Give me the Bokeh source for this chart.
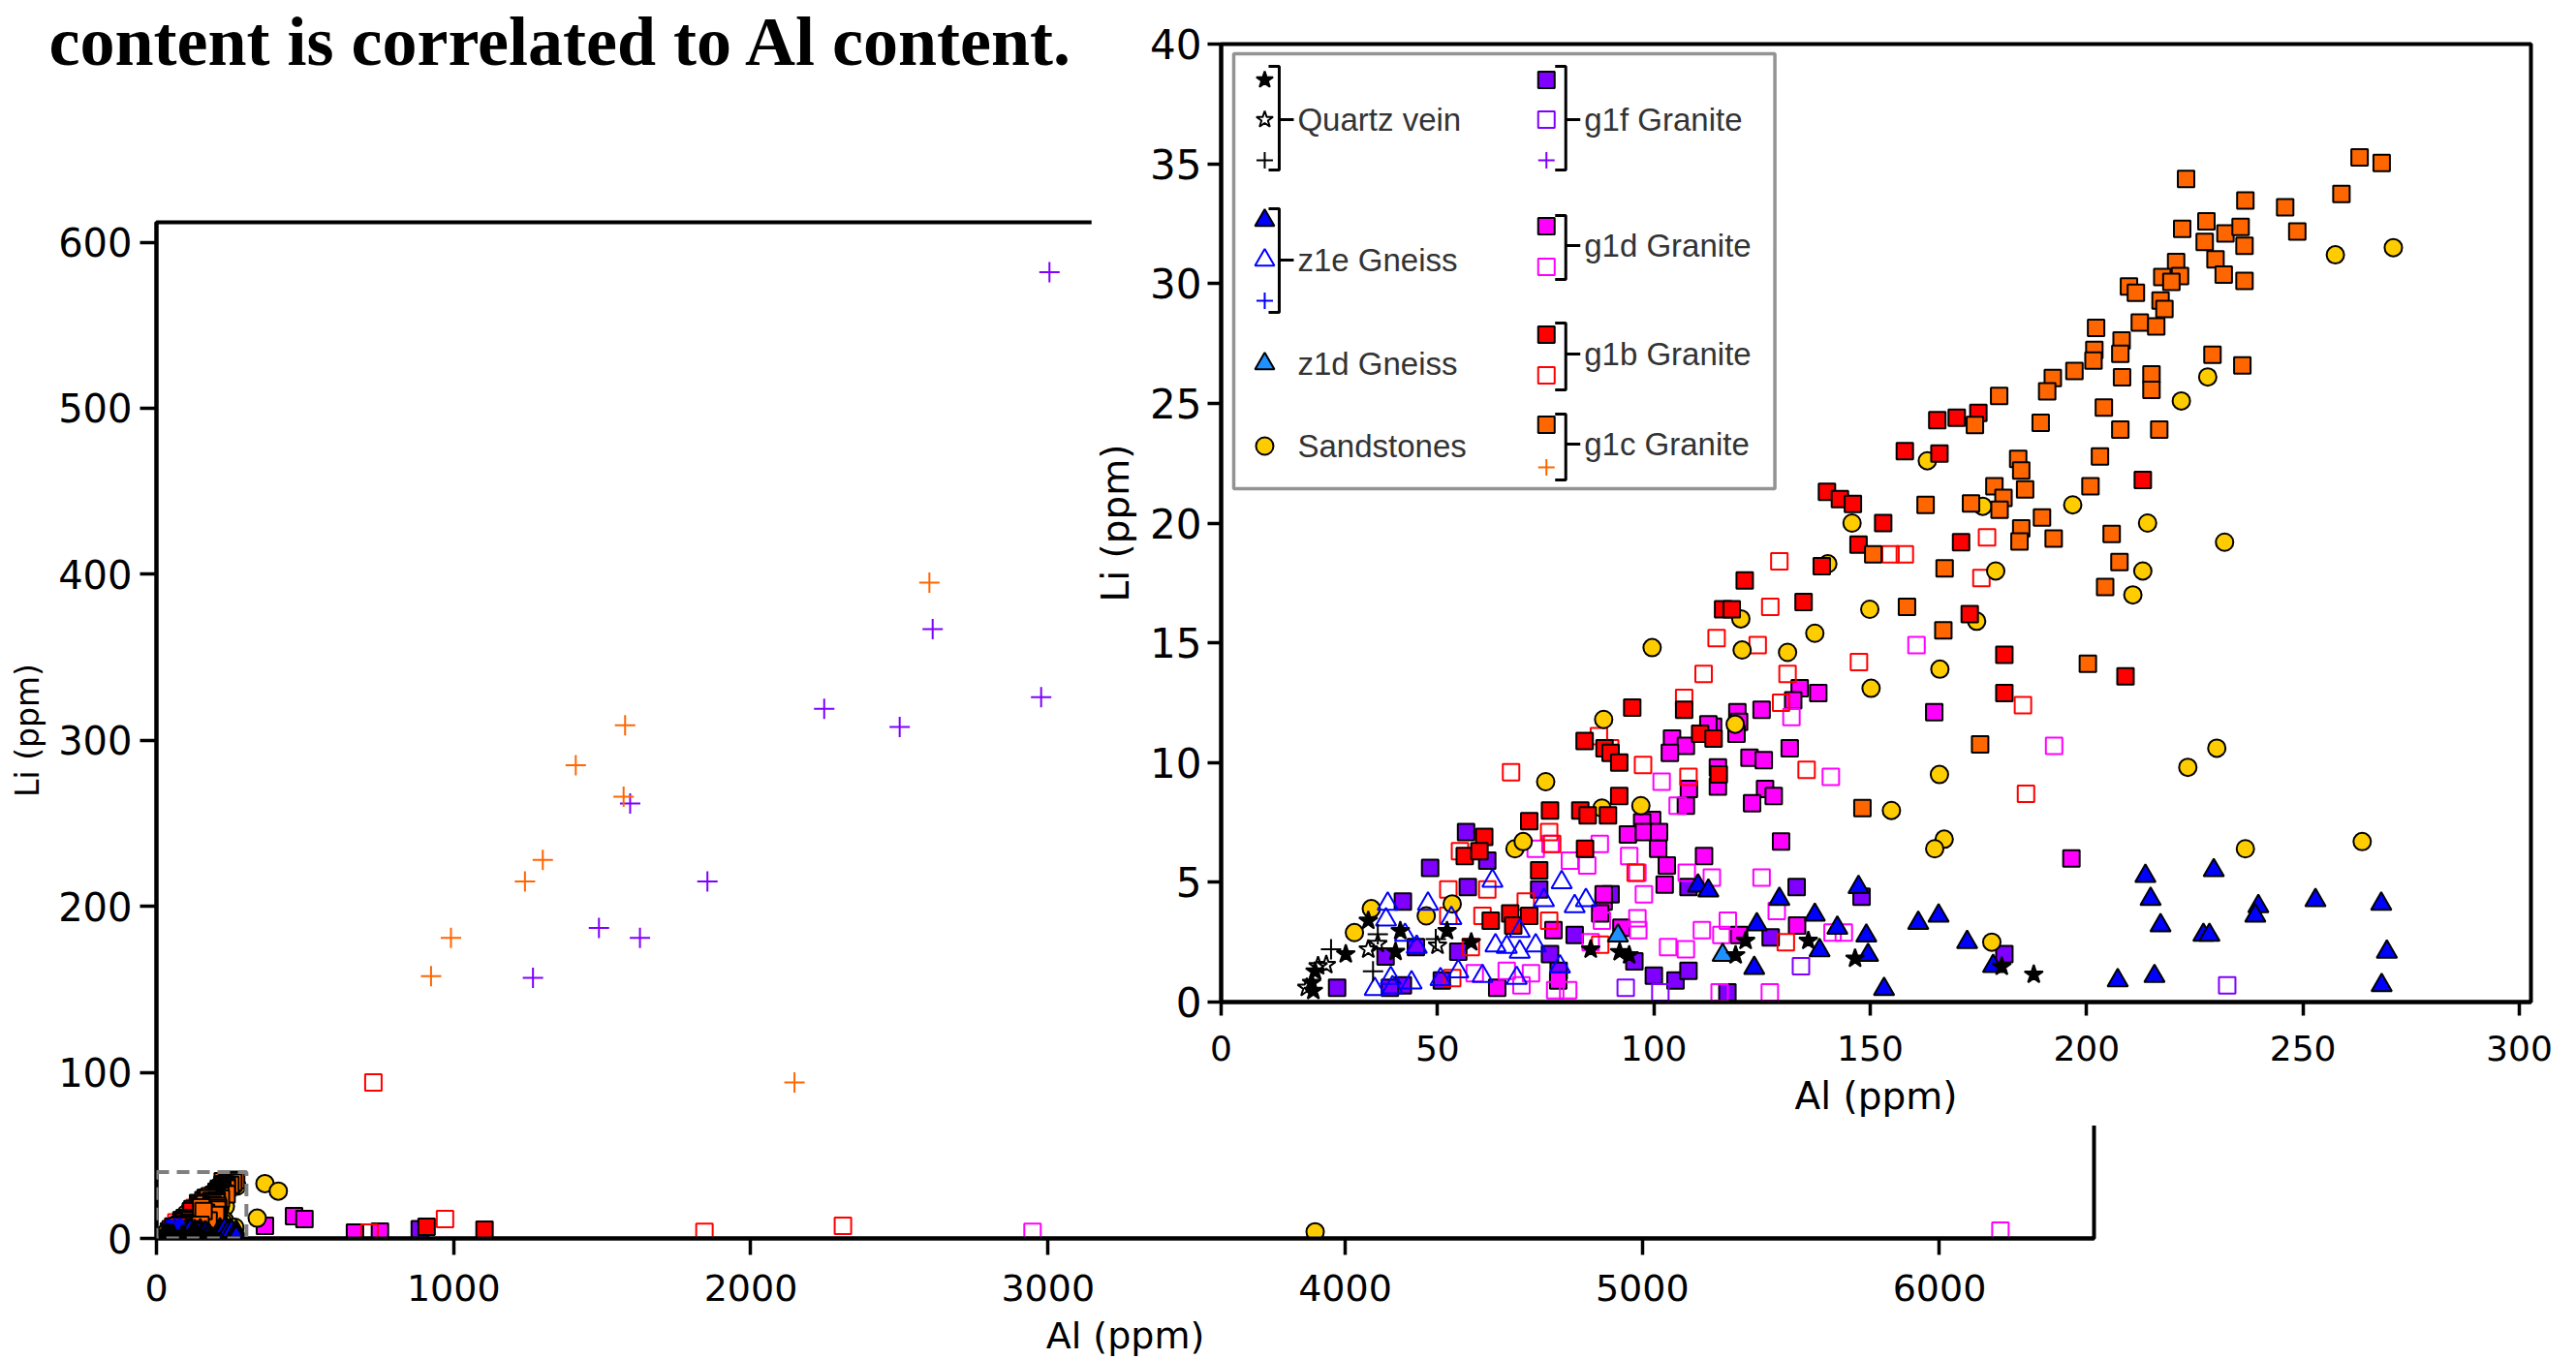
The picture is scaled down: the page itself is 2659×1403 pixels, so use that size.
from bokeh.plotting import figure
from bokeh.models import Range1d, BoxAnnotation, Label, FixedTicker
from bokeh.layouts import column
from bokeh.embed import file_html
from bokeh.resources import INLINE
from bokeh.core.properties import value

# ---------------- data (Al ppm, Li ppm) ----------------
qv_star_al = [21.3, 20.9, 21.7, 28.8, 34.0, 40.3, 41.4, 52.2, 57.8, 85.4, 121.2, 118.9, 94.3, 92.1, 135.7, 146.5, 180.4, 187.8]
qv_star_li = [0.47, 0.81, 1.28, 2.0, 3.4, 2.1, 2.97, 2.97, 2.5, 2.2, 2.56, 1.96, 1.96, 2.09, 2.56, 1.82, 1.48, 1.15]
qv_open_al = [19.8, 22.4, 24.3, 34.0, 36.2, 50.0]
qv_open_li = [0.6, 1.5, 1.55, 2.2, 2.43, 2.36]
qv_cross_al = [25.4, 36.2, 35.1, 49.6]
qv_cross_li = [2.2, 2.83, 1.28, 2.63]

z1e_fill_al = [110.2, 112.6, 129.0, 123.8, 137.2, 147.3, 138.3, 149.1, 149.5, 142.4, 123.2, 153.2, 161.1, 165.8, 172.4,
               178.4, 207.2, 215.7, 213.6, 214.8, 217.1, 227.0, 228.4, 229.4, 239.7, 239.0, 252.9, 268.1, 269.4, 268.2]
z1e_fill_li = [4.86, 4.65, 4.3, 3.24, 3.64, 4.8, 2.16, 2.77, 1.96, 3.1, 1.42, 0.54, 3.3, 3.6, 2.5,
               1.5, 0.9, 1.08, 5.26, 4.3, 3.2, 2.8, 2.8, 5.5, 4.0, 3.6, 4.25, 4.1, 2.1, 0.7]
z1e_open_al = [62.7, 38.5, 38.1, 47.8, 53.2, 42.5, 45.2, 63.4, 66.0, 69.0, 69.0, 72.7, 74.6, 78.7, 81.7, 84.3, 78.3,
               68.3, 60.4, 54.8, 50.7, 44.0, 39.2, 35.5, 39.6]
z1e_open_li = [5.06, 4.1, 3.44, 4.1, 3.5, 2.8, 2.3, 2.36, 2.3, 2.97, 2.1, 2.36, 4.25, 5.0, 4.0, 4.25, 1.48,
               1.0, 1.08, 1.28, 0.95, 0.81, 1.0, 0.54, 0.61]
z1d_al = [115.9, 91.7]
z1d_li = [1.96, 2.77]

sand_al = [270.9, 257.5, 228.0, 221.9, 196.8, 214.1, 231.9, 213.0, 210.7, 179.0, 174.6, 176.0, 163.2, 166.1, 166.0,
           230.1, 223.4, 167.1, 164.9, 178.1, 236.7, 263.7, 99.6, 88.4, 75.0, 120.1, 120.4, 130.9, 137.2, 149.9,
           150.2, 154.9, 118.8, 140.2, 88.0, 97.0, 145.8, 34.7, 30.8, 47.4, 53.4, 67.9, 69.8, 365, 410, 339, 3899]
sand_li = [31.5, 31.2, 26.1, 25.1, 20.76, 20.0, 19.2, 18.0, 17.0, 18.0, 15.9, 20.7, 22.6, 13.9, 9.5,
           10.6, 9.8, 6.8, 6.4, 2.5, 6.4, 6.7, 14.8, 11.8, 9.2, 16.0, 14.7, 14.6, 15.4, 16.4,
           13.1, 8.0, 11.6, 18.3, 8.1, 8.2, 20.0, 3.9, 2.9, 3.6, 4.1, 6.4, 6.7, 33, 28.5, 12.2, 4]

g1f_fill_al = [48.3, 42.0, 57.0, 56.6, 61.5, 26.8, 38.0, 45.0, 54.8, 51.0, 42.0, 39.0, 73.5, 81.7, 76.0, 78.0,
               133.0, 148.0, 108.0, 127.0, 100.0, 105.0, 108.0, 95.5, 117.0, 90.0, 181.0, 886]
g1f_fill_li = [5.6, 4.2, 4.8, 7.1, 5.9, 0.6, 1.9, 2.3, 2.1, 0.9, 0.7, 0.6, 4.7, 2.8, 2.0, 1.3,
               4.8, 4.4, 4.8, 2.7, 1.1, 0.9, 1.3, 1.7, 0.4, 4.5, 2.0, 5.5]
g1f_open_al = [93.5, 101.5, 134.0, 232.5]
g1f_open_li = [0.6, 0.4, 1.5, 0.7]
g1f_cross_al = [1267, 1489, 1594, 1627, 1854, 2247, 2501, 2612, 2977, 3005]
g1f_cross_li = [157, 187, 262, 181, 215, 319, 308, 367, 326, 582]

g1d_fill_al = [133.7, 138.0, 132.2, 124.9, 119.3, 119.7, 113.7, 112.6, 119.1, 104.2, 107.4, 103.7, 131.4, 122.1, 125.4,
               114.8, 114.8, 125.7, 127.7, 122.7, 108.1, 107.4, 99.6, 97.3, 164.8, 94.0, 97.7, 101.2, 101.0, 103.0,
               102.5, 111.6, 88.4, 92.5, 129.4, 133.1, 119.7, 76.8, 77.9, 63.8, 87.6, 88.4, 196.5, 365, 463,
               498, 668, 752]
g1d_fill_li = [13.1, 12.9, 12.6, 12.2, 12.1, 11.7, 11.5, 11.6, 11.2, 11.0, 10.7, 10.4, 10.6, 10.2, 10.1,
               9.8, 9.0, 8.9, 8.6, 8.3, 8.9, 8.2, 7.6, 7.5, 12.1, 7.0, 7.1, 7.1, 6.4, 5.7,
               4.9, 6.1, 4.2, 3.1, 6.7, 3.2, 2.8, 3.0, 0.9, 0.6, 3.7, 4.5, 6.0, 7.6, 13.4,
               11.6, 3.5, 4.1]
g1d_open_al = [131.8, 140.9, 101.8, 105.5, 160.7, 87.5, 94.3, 96.2, 97.7, 107.6, 113.4, 124.9, 96.2, 96.4, 111.1,
               117.1, 115.6, 103.3, 107.4, 128.4, 141.3, 143.9, 115.2, 126.8, 88.0, 72.7, 76.1, 80.6, 84.6, 58.6,
               66.0, 71.6, 69.4, 77.2, 80.2, 85.4, 192.5, 2948, 6205]
g1d_open_li = [11.9, 9.4, 9.2, 8.2, 14.9, 6.6, 6.1, 5.4, 4.5, 5.4, 5.2, 5.2, 3.5, 3.0, 3.0,
               3.4, 2.8, 2.3, 2.2, 3.8, 2.9, 2.9, 0.4, 0.4, 3.4, 6.4, 6.6, 5.9, 5.7, 1.2,
               1.3, 1.2, 0.7, 0.5, 0.5, 2.5, 10.7, 4, 4.7]

g1b_fill_al = [140, 143, 146, 153, 147.3, 138.8, 121, 134.6, 116, 118, 158, 166, 165.5, 170, 175,
               213, 171, 173, 181, 209, 181, 95, 107, 84, 88.6, 90, 92, 110.7, 113.8, 115,
               92, 76, 83, 84.7, 89.4, 84.1, 60.8, 56.3, 59.7, 71.2, 62.3, 66.8, 67.5, 71.2, 73.5, 909, 1104]
g1b_fill_li = [21.3, 21.0, 20.8, 20.0, 19.1, 18.2, 17.6, 16.7, 16.4, 16.4, 23.0, 22.9, 24.3, 24.4, 24.6,
               21.8, 19.2, 16.2, 14.5, 13.6, 12.9, 12.3, 12.2, 10.9, 10.6, 10.4, 10.0, 11.2, 11.0, 9.5,
               8.6, 8.0, 8.0, 7.8, 7.8, 6.4, 6.9, 6.1, 6.3, 7.55, 3.4, 3.7, 3.2, 3.6, 5.5, 7, 5.2]
g1b_open_al = [129, 126.9, 114.5, 124, 111.5, 130.9, 107, 147.4, 154.7, 158, 87.3, 89.9, 97.5, 108, 135.3,
               129.4, 177, 175.7, 185.3, 186, 55.2, 52.5, 52.5, 61.5, 60.4, 70.4, 75.8, 57.7, 53.4, 75.8,
               76.5, 95.8, 130.5, 87.6, 67, 730, 717, 971, 1844, 2310]
g1b_open_li = [18.4, 16.5, 15.2, 14.9, 13.7, 13.7, 12.7, 14.2, 18.7, 18.7, 11.1, 10.6, 9.9, 9.4, 9.7,
               12.5, 19.4, 17.7, 12.4, 8.7, 6.3, 4.7, 3.6, 4.7, 3.6, 4.2, 3.4, 2.3, 1.0, 7.1,
               6.6, 5.4, 2.5, 2.4, 9.6, 94, 3.5, 11.6, 4, 7.6]

g1c_fill_al = [263.1, 268.2, 223.0, 236.7, 245.9, 258.9, 248.7, 222.1, 227.7, 232.1,
               235.6, 227.3, 236.5, 229.8, 220.7, 231.7, 236.5, 217.5, 221.6, 219.6,
               209.8, 211.4, 217.1, 218.0, 212.3, 216.1, 202.2, 208.1, 201.8, 207.8,
               201.6, 229.1, 236.0, 192.2, 197.2, 190.9, 208.2, 215.0, 215.0, 179.8,
               204.0, 189.4, 207.8, 216.8, 174.2, 184.2, 184.9, 203.1, 178.7, 185.8,
               180.8, 173.3, 179.9, 162.8, 200.9, 189.7, 184.9, 184.5, 192.4, 205.8,
               167.2, 207.6, 204.3, 166.9, 200.3, 175.4, 150.7, 158.5, 148.2]
g1c_fill_li = [35.27, 35.04, 34.37, 33.47, 33.19, 33.74, 32.17, 32.29, 32.60, 32.09,
               32.37, 31.74, 31.58, 31.01, 30.90, 30.37, 30.11, 30.27, 30.31, 30.07,
               29.88, 29.62, 29.29, 28.94, 28.37, 28.21, 28.15, 27.62, 27.23, 27.07,
               26.78, 27.03, 26.58, 26.06, 26.35, 25.50, 26.09, 26.21, 25.56, 25.31,
               24.82, 24.19, 23.90, 23.90, 24.09, 22.68, 22.19, 22.78, 21.54, 21.41,
               21.05, 20.82, 20.56, 20.76, 21.54, 20.23, 19.78, 19.23, 19.35, 19.54,
               18.11, 18.37, 17.33, 15.52, 14.13, 10.76, 18.7, 16.5, 8.1]
g1c_cross_al = [924, 991, 1240, 1300, 1411, 1577, 1572, 2147, 2601]
g1c_cross_li = [158, 181, 215, 228, 285, 309, 266, 94, 395]

main_xticks = [0, 1000, 2000, 3000, 4000, 5000, 6000]
main_yticks = [0, 100, 200, 300, 400, 500, 600]
inset_xticks = [0, 50, 100, 150, 200, 250, 300]
inset_yticks = [0, 5, 10, 15, 20, 25, 30, 35, 40]
MAIN_X = (0, 6520)
MAIN_Y = (0, 612)
INSET_X = (0, 302.7)
INSET_Y = (0, 40)

TITLE_TEXT = "content is correlated to Al content."

# ---------------- styles ----------------
C_G1F = "#7F00FF"
C_G1D = "#FF00FF"
C_G1B = "#FF0000"
C_G1C = "#FF6600"
C_SAND = "#FFCC00"
C_Z1E = "#0000FF"
C_Z1D = "#1E90FF"

S_SQ, S_CI, S_TR, S_ST, S_CR = 17, 18, 21, 20, 21

SERIES = [
    (g1f_fill_al, g1f_fill_li, "square", C_G1F, "black", S_SQ),
    (g1f_open_al, g1f_open_li, "square", None, C_G1F, S_SQ),
    (g1d_fill_al, g1d_fill_li, "square", C_G1D, "black", S_SQ),
    (g1d_open_al, g1d_open_li, "square", None, C_G1D, S_SQ),
    (g1b_open_al, g1b_open_li, "square", None, C_G1B, S_SQ),
    (sand_al, sand_li, "circle", C_SAND, "black", S_CI),
    (g1b_fill_al, g1b_fill_li, "square", C_G1B, "black", S_SQ),
    (g1c_fill_al, g1c_fill_li, "square", C_G1C, "black", S_SQ),
    (z1d_al, z1d_li, "triangle", C_Z1D, "black", S_TR),
    (z1e_open_al, z1e_open_li, "triangle", None, C_Z1E, S_TR),
    (z1e_fill_al, z1e_fill_li, "triangle", C_Z1E, "black", S_TR),
    (qv_open_al, qv_open_li, "star", None, "black", S_ST),
    (qv_star_al, qv_star_li, "star", "black", "black", S_ST),
    (qv_cross_al, qv_cross_li, "cross", None, "black", S_CR),
    (g1f_cross_al, g1f_cross_li, "cross", None, C_G1F, S_CR),
    (g1c_cross_al, g1c_cross_li, "cross", None, C_G1C, S_CR),
]


def draw_series(p):
    for al, li, mk, fill, line, size in SERIES:
        p.scatter(al, li, marker=mk, size=size,
                  fill_color=fill, fill_alpha=(1 if fill else 0),
                  line_color=line, line_width=2)


def style_axes(p, tick_out, xfs, yfs, xlfs, ylfs, xs1, xs2, ys1, ys2, xticks, yticks):
    p.xaxis.ticker = FixedTicker(ticks=xticks)
    p.yaxis.ticker = FixedTicker(ticks=yticks)
    p.xaxis.axis_label = "Al (ppm)"
    p.yaxis.axis_label = "Li (ppm)"
    for ax in (p.xaxis[0], p.yaxis[0]):
        ax.axis_line_width = 4
        ax.axis_line_color = "black"
        ax.major_tick_line_width = 3.5
        ax.major_tick_line_color = "black"
        ax.major_tick_out = tick_out
        ax.major_tick_in = 0
        ax.minor_tick_line_color = None
        ax.major_label_text_font = "DejaVu Sans"
        ax.major_label_text_color = "black"
        ax.axis_label_text_font = "DejaVu Sans"
        ax.axis_label_text_font_style = "normal"
        ax.axis_label_text_color = "black"
    p.xaxis.major_label_text_font_size = xfs
    p.yaxis.major_label_text_font_size = yfs
    p.xaxis.axis_label_text_font_size = xlfs
    p.yaxis.axis_label_text_font_size = ylfs
    p.xaxis.major_label_standoff = xs1
    p.xaxis.axis_label_standoff = xs2
    p.yaxis.major_label_standoff = ys1
    p.yaxis.axis_label_standoff = ys2
    p.grid.visible = False
    p.outline_line_color = "black"
    p.outline_line_width = 4
    p.outline_line_alpha = 1


W, H = 2659, 1403

# ---------------- caption fragment at top-left (bottom layer) ----------------
TW, TH = 1122, 120
TITLE_SHIFT = 23   # observed vertical offset of this label in the rendered page
tf = figure(width=TW, height=TH, x_range=Range1d(0, TW), y_range=Range1d(0, TH),
            output_backend="svg", toolbar_location=None, title=None,
            x_axis_location=None, y_axis_location=None, min_border=0)
tf.frame_align = False
tf.grid.visible = False
tf.background_fill_alpha = 0
tf.border_fill_alpha = 0
tf.outline_line_color = None
tf.add_layout(Label(x=50, y=TH - 65 + TITLE_SHIFT, text=TITLE_TEXT, text_font="Liberation Serif",
                    text_font_style="bold", text_font_size="72px", text_color="black",
                    text_baseline="alphabetic", text_align="left"))

# ---------------- main plot ----------------
MFL, MFT, MFR, MFB = 161, 229, 2161, 1280   # frame edges on the page
main = figure(width=W, height=H, x_range=Range1d(*MAIN_X), y_range=Range1d(*MAIN_Y),
              output_backend="svg", toolbar_location=None, title=None,
              min_border_left=MFL, min_border_right=W - MFR, min_border_top=MFT, min_border_bottom=H - MFB)
main.frame_align = False
main.background_fill_color = "white"
main.border_fill_alpha = 0
style_axes(main, 17, "38px", "40px", "38px", "33px", 20, 11, 8, 9, main_xticks, main_yticks)
draw_series(main)
main.add_layout(BoxAnnotation(left=INSET_X[0], right=INSET_X[1], bottom=INSET_Y[0], top=INSET_Y[1],
                              fill_alpha=0, line_color="#808080", line_alpha=1, line_width=4,
                              line_dash="13 8", level="overlay"))
main.margin = (-TH, 0, 0, 0)

# ---------------- inset plot (top layer) ----------------
IN_LEFT = 1126
IN_W, IN_H = W - IN_LEFT, 1162
IFL, IFT, IFW, IFH = 133, 45, 1353, 989
inset = figure(width=IN_W, height=IN_H, x_range=Range1d(*INSET_X), y_range=Range1d(*INSET_Y),
               output_backend="svg", toolbar_location=None, title=None,
               min_border_left=IFL, min_border_right=IN_W - IFL - IFW, min_border_top=IFT,
               min_border_bottom=IN_H - IFT - IFH)
inset.frame_align = False
inset.background_fill_color = "white"
inset.border_fill_color = "white"
style_axes(inset, 14, "36px", "42px", "39px", "39px", 20, 11, 6, 10, inset_xticks, inset_yticks)
draw_series(inset)


def ipx(px):
    return INSET_X[0] + px / IFW * (INSET_X[1] - INSET_X[0])


def ipy(py):
    return INSET_Y[1] - py / IFH * (INSET_Y[1] - INSET_Y[0])


# legend box (pixel offsets from the inset frame's top-left corner)
inset.add_layout(BoxAnnotation(left=ipx(13), right=ipx(572), top=ipy(10), bottom=ipy(459),
                               fill_color="white", fill_alpha=1, line_color="#939393", line_alpha=1,
                               line_width=3.5, level="underlay"))

LEG_MARKERS = [
    # (px, py, marker, fill, line, size)
    (45, 37, "star", "black", "black", 18),
    (45, 78, "star", None, "black", 18),
    (45, 120, "cross", None, "black", 17),
    (45, 182, "triangle", C_Z1E, "black", 20),
    (45, 223, "triangle", None, C_Z1E, 20),
    (45, 265, "cross", None, C_Z1E, 17),
    (45, 330, "triangle", C_Z1D, "black", 20),
    (45, 415, "circle", C_SAND, "black", 18),
    (336, 37, "square", C_G1F, "black", 17),
    (336, 78, "square", None, C_G1F, 17),
    (336, 120, "cross", None, C_G1F, 17),
    (336, 188, "square", C_G1D, "black", 17),
    (336, 230, "square", None, C_G1D, 17),
    (336, 300, "square", C_G1B, "black", 17),
    (336, 342, "square", None, C_G1B, 17),
    (336, 393, "square", C_G1C, "black", 17),
    (336, 437, "cross", None, C_G1C, 17),
]
for px, py, mk, fill, line, size in LEG_MARKERS:
    inset.scatter([ipx(px)], [ipy(py)], marker=mk, size=size, fill_color=fill,
                  fill_alpha=(1 if fill else 0), line_color=line, line_width=2)

LEG_TEXT = [
    (79, 78, "Quartz vein"), (79, 223, "z1e Gneiss"), (79, 330, "z1d Gneiss"), (79, 415, "Sandstones"),
    (375, 78, "g1f Granite"), (375, 208, "g1d Granite"), (375, 320, "g1b Granite"), (375, 413, "g1c Granite"),
]
inset.text(x=[ipx(t[0]) for t in LEG_TEXT], y=[ipy(t[1]) for t in LEG_TEXT], text=[t[2] for t in LEG_TEXT],
           text_font=value("Liberation Sans"), text_font_size="33px", text_color="#333333",
           text_baseline="middle", text_align="left")

BRACKETS = [
    # (hook_x, vert_x, tick_x, top, bottom, mid)
    (49, 60, 75, 23, 130, 78),
    (49, 60, 75, 170, 277, 223),
    (345, 356, 371, 23, 130, 78),
    (345, 356, 371, 177, 243, 208),
    (345, 356, 371, 288, 357, 320),
    (345, 356, 371, 382, 450, 413),
]
bxs, bys = [], []
for hx, vx, tx, top, bot, mid in BRACKETS:
    bxs.append([ipx(hx), ipx(vx), ipx(vx), ipx(hx)])
    bys.append([ipy(top), ipy(top), ipy(bot), ipy(bot)])
    bxs.append([ipx(vx), ipx(tx)])
    bys.append([ipy(mid), ipy(mid)])
inset.multi_line(bxs, bys, line_color="black", line_width=3)

inset.margin = (-H, 0, 0, IN_LEFT)

layout = column(tf, main, inset)
open("out.html", "w").write(file_html(layout, INLINE))
